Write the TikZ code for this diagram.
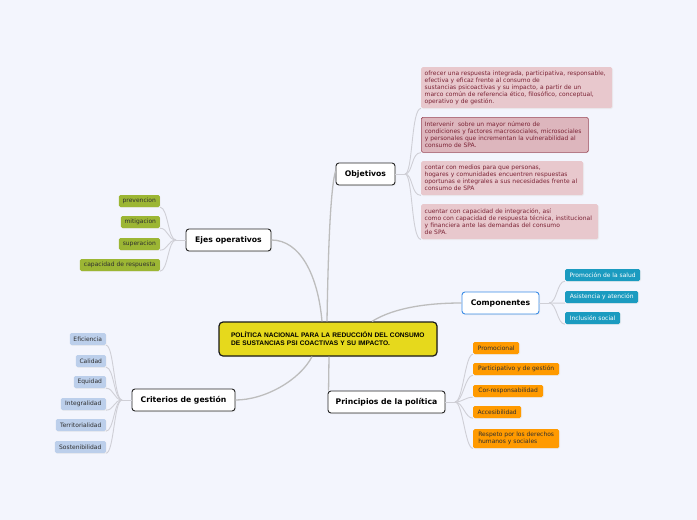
\documentclass[tikz,border=0pt]{standalone}
\usepackage{fontspec}
\setmainfont{DejaVu Sans}
\newfontfamily\libsans{Liberation Sans}
\usetikzlibrary{shadows}
\definecolor{bgc}{HTML}{F3F5FD}
\definecolor{yel}{HTML}{E6D91C}
\definecolor{pinkf}{HTML}{E8C8CD}
\definecolor{pinkd}{HTML}{DDB6BD}
\definecolor{pinkb}{HTML}{9C4A5A}
\definecolor{pinkt}{HTML}{7B2335}
\definecolor{grn}{HTML}{9CB634}
\definecolor{lblue}{HTML}{BCCFEB}
\definecolor{teal}{HTML}{1B9BC0}
\definecolor{orng}{HTML}{FF9A00}
\definecolor{compb}{HTML}{3B8CE6}
\definecolor{linec}{HTML}{BDBDBD}
\definecolor{linel}{HTML}{CFCFD6}
\definecolor{txt}{HTML}{2F2F2F}
\tikzset{
  topic/.style={draw=black!85, line width=0.9pt, rounded corners=3pt, fill=white,
    font=\bfseries\fontsize{7.7}{8}\selectfont, text=black, minimum height=22pt, inner xsep=3pt,
    drop shadow={shadow xshift=1pt, shadow yshift=-1pt, fill=black!12}},
  leaf/.style={rounded corners=1.5pt, font=\fontsize{6.0}{6.5}\selectfont, minimum height=12pt,
    inner xsep=3pt, inner ysep=1pt, text=txt,
    drop shadow={shadow xshift=0.8pt, shadow yshift=-0.8pt, fill=black!10}},
  pinkbox/.style={rounded corners=1.5pt, fill=pinkf, text=pinkt, align=left,
    font=\fontsize{6.0}{7.0}\selectfont, inner xsep=3.5pt, inner ysep=2pt,
    drop shadow={shadow xshift=0.8pt, shadow yshift=-0.8pt, fill=black!10}},
  mainline/.style={draw=linec, line width=1.3pt},
  subline/.style={draw=linel, line width=0.9pt},
}
\begin{document}
\begin{tikzpicture}[x=1pt,y=-1pt]
\fill[bgc] (0,0) rectangle (697,520);
\useasboundingbox (0,0) rectangle (697,520);

% central
\node[draw=black!90, line width=1.2pt, rounded corners=4pt, fill=yel, minimum width=218pt, minimum height=34pt,
  inner xsep=12pt, text width=194pt, align=left, font=\libsans\bfseries\fontsize{6.6}{8}\selectfont,
  drop shadow={shadow xshift=1pt, shadow yshift=-1pt, fill=black!15}]
  (c) at (328,339) {POLÍTICA NACIONAL PARA LA REDUCCIÓN DEL CONSUMO\\DE SUSTANCIAS PSI COACTIVAS Y SU IMPACTO.};

% main topics
\node[topic, minimum width=59pt] (obj) at (365.5,174) {Objetivos};
\node[topic, minimum width=85pt] (eje) at (228.5,240) {Ejes operativos};
\node[topic, minimum width=77pt, draw=compb] (comp) at (500.5,303) {Componentes};
\node[topic, minimum width=117pt] (pri) at (386.5,402) {Principios de la política};
\node[topic, minimum width=103pt] (cri) at (183.5,400) {Criterios de gestión};

% main connectors
\draw[mainline] ([xshift=-1pt]c.north) .. controls (328,260) and (330,190) .. ([yshift=3pt]obj.west);
\draw[mainline] ([xshift=-6pt]c.north) .. controls (318,275) and (300,240) .. (eje.east);
\draw[mainline] ([xshift=44pt]c.north) .. controls (395,307) and (430,303) .. (comp.west);
\draw[mainline] ([xshift=1pt]c.south) -- ([xshift=1pt]pri.north west);
\draw[mainline] ([xshift=-16pt]c.south) .. controls (300,380) and (265,400) .. (cri.east);

% Objetivos children
\node[pinkbox, anchor=north west, text width=184pt, minimum height=41pt] (o1) at (421,67)
 {ofrecer una respuesta integrada, participativa, responsable,\\efectiva y eficaz frente al consumo de\\sustancias psicoactivas y su impacto, a partir de un\\marco común de referencia ético, filosófico, conceptual,\\operativo y de gestión.};
\node[pinkbox, anchor=north west, text width=160pt, minimum height=35pt, fill=pinkd, draw=pinkb, line width=0.6pt] (o2) at (421,117)
 {Intervenir \ sobre un mayor número de\\condiciones y factores macrosociales, microsociales\\y personales que incrementan la vulnerabilidad al\\consumo de SPA.};
\node[pinkbox, anchor=north west, text width=155pt, minimum height=34pt] (o3) at (421,161)
 {contar con medios para que personas,\\hogares y comunidades encuentren respuestas\\oportunas e integrales a sus necesidades frente al\\consumo de SPA};
\node[pinkbox, anchor=north west, text width=170pt, minimum height=35pt] (o4) at (421,204)
 {cuentar con capacidad de integración, así\\como con capacidad de respuesta técnica, institucional\\y financiera ante las demandas del consumo\\de SPA.};
\coordinate (oh) at (405,174);
\draw[subline] (obj.east) -- (oh);
\foreach \n in {o1,o2,o3,o4}
  \draw[subline] (oh) .. controls +(8,0) and +(-10,0) .. (\n.south west);

% Ejes children
\node[leaf, fill=grn, anchor=east, minimum width=41pt] (e1) at (160,201) {prevencion};
\node[leaf, fill=grn, anchor=east, minimum width=39pt] (e2) at (160,222) {mitigacion};
\node[leaf, fill=grn, anchor=east, minimum width=41pt] (e3) at (160,244) {superacion};
\node[leaf, fill=grn, anchor=east, minimum width=80pt] (e4) at (160,265) {capacidad de respuesta};
\coordinate (eh) at (176,240);
\draw[subline] (eje.west) -- (eh);
\foreach \n in {e1,e2,e3,e4}
  \draw[subline] (eh) .. controls +(-8,0) and +(8,0) .. (\n.south east);

% Criterios children
\node[leaf, fill=lblue, anchor=east, minimum width=36pt] (k1) at (106,339) {Eficiencia};
\node[leaf, fill=lblue, anchor=east, minimum width=30pt] (k2) at (106,361) {Calidad};
\node[leaf, fill=lblue, anchor=east, minimum width=32pt] (k3) at (106,382) {Equidad};
\node[leaf, fill=lblue, anchor=east, minimum width=45pt] (k4) at (106,404) {Integralidad};
\node[leaf, fill=lblue, anchor=east, minimum width=50pt] (k5) at (106,425) {Territorialidad};
\node[leaf, fill=lblue, anchor=east, minimum width=51pt] (k6) at (106,447) {Sostenibilidad};
\coordinate (kh) at (122,400);
\draw[subline] (cri.west) -- (kh);
\foreach \n in {k1,k2,k3,k4,k5,k6}
  \draw[subline] (kh) .. controls +(-8,0) and +(8,0) .. (\n.south east);

% Componentes children
\node[leaf, fill=teal, text=white, anchor=west, minimum width=75pt] (p1) at (565,275) {Promoción de la salud};
\node[leaf, fill=teal, text=white, anchor=west, minimum width=73pt] (p2) at (565,297) {Asistencia y atención};
\node[leaf, fill=teal, text=white, anchor=west, minimum width=55pt] (p3) at (565,318) {Inclusión social};
\coordinate (ph) at (549,303);
\draw[subline] (comp.east) -- (ph);
\foreach \n in {p1,p2,p3}
  \draw[subline] (ph) .. controls +(8,0) and +(-8,0) .. (\n.south west);

% Principios children
\node[leaf, fill=orng, anchor=west, minimum width=46pt] (r1) at (473,348) {Promocional};
\node[leaf, fill=orng, anchor=west, minimum width=86pt] (r2) at (473,369) {Participativo y de gestión};
\node[leaf, fill=orng, anchor=west, minimum width=70pt] (r3) at (473,391) {Cor-responsabilidad};
\node[leaf, fill=orng, anchor=west, minimum width=48pt] (r4) at (473,412) {Accesibilidad};
\node[leaf, fill=orng, anchor=north west, minimum width=86pt, minimum height=19pt, align=left,
  font=\fontsize{6.0}{7.0}\selectfont] (r5) at (473,429) {Respeto por los derechos\\humanos y sociales};
\coordinate (rh) at (455,402);
\draw[subline] (pri.east) -- (rh);
\foreach \n in {r1,r2,r3,r4,r5}
  \draw[subline] (rh) .. controls +(8,0) and +(-8,0) .. (\n.south west);
\end{tikzpicture}
\end{document}
